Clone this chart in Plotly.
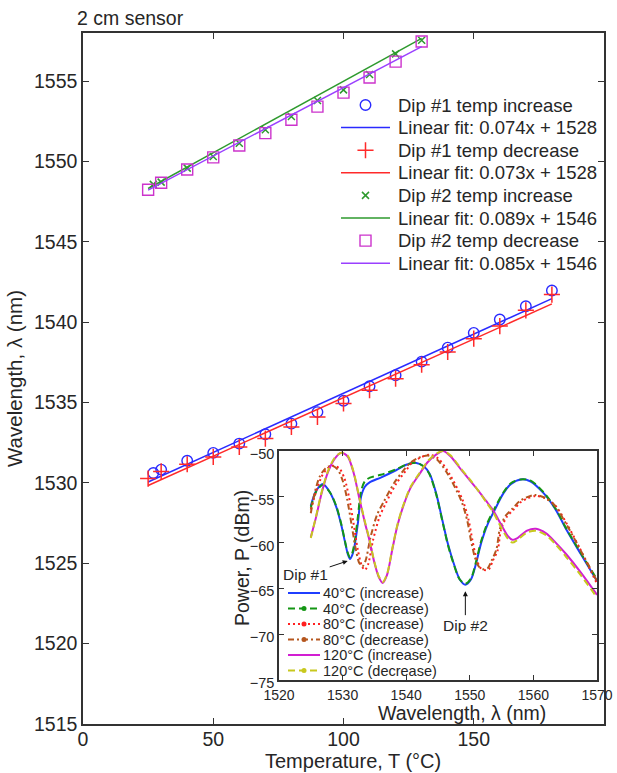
import plotly.graph_objects as go
import numpy as np

# ---------------- data: main plot ----------------
t_dip1_inc = [27, 30, 40, 50, 60, 70, 80, 90, 100, 110, 120, 130, 140, 150, 160, 170, 180]
wl_dip1_inc = [1530.62, 1530.83, 1531.38, 1531.87, 1532.45, 1533.03, 1533.69, 1534.41, 1535.12,
               1536.02, 1536.70, 1537.55, 1538.42, 1539.34, 1540.17, 1541.00, 1541.98]
t_dip1_dec = [25, 30, 40, 50, 60, 70, 80, 90, 100, 110, 120, 130, 140, 150, 160, 170, 180]
wl_dip1_dec = [1530.27, 1530.72, 1531.16, 1531.62, 1532.24, 1532.76, 1533.48, 1534.10, 1534.94,
               1535.77, 1536.49, 1537.36, 1538.15, 1538.98, 1539.76, 1540.74, 1541.72]
t_dip2_inc = [27, 30, 40, 50, 60, 70, 80, 90, 100, 110, 120, 130]
wl_dip2_inc = [1548.58, 1548.72, 1549.59, 1550.32, 1551.14, 1551.98, 1552.80, 1553.80, 1554.46,
               1555.42, 1556.70, 1557.55]
t_dip2_dec = [25, 30, 40, 50, 60, 70, 80, 90, 100, 110, 120, 130]
wl_dip2_dec = [1548.25, 1548.68, 1549.51, 1550.26, 1551.00, 1551.77, 1552.60, 1553.42, 1554.29,
               1555.23, 1556.22, 1557.47]

fit_slope = [0.0736, 0.0729, 0.0890, 0.0850]
fit_icpt = [1528.22, 1528.02, 1546.10, 1546.10]

main_legend_labels = ["Dip #1 temp increase", "Linear fit: 0.074x + 1528",
                      "Dip #1 temp decrease", "Linear fit: 0.073x + 1528",
                      "Dip #2 temp increase", "Linear fit: 0.089x + 1546",
                      "Dip #2 temp decrease", "Linear fit: 0.085x + 1546"]

x_ticks = [0, 50, 100, 150, 200]
y_ticks = [1515, 1520, 1525, 1530, 1535, 1540, 1545, 1550, 1555]

# ---------------- data: inset spectra ----------------
lam_40 = [1525.0, 1525.8, 1526.9, 1528.0, 1529.0, 1529.8, 1530.3, 1530.8, 1531.15, 1531.5, 1531.9,
          1532.4, 1532.9, 1533.5, 1534.3, 1536.0, 1538.4, 1540.0, 1541.6, 1542.8, 1543.7, 1544.7,
          1545.8, 1546.5, 1547.3, 1548.4, 1549.3, 1550.2, 1550.9, 1551.8, 1552.8, 1553.8, 1555.3,
          1556.5, 1558.0, 1559.5, 1561.6, 1563.5, 1565.2, 1567.5, 1570.0]
p_40_inc = [-56.0, -54.4, -53.6, -54.5, -56.1, -58.1, -59.7, -61.2, -61.8, -61.4, -60.3, -57.9,
            -55.0, -53.9, -53.4, -52.9, -52.1, -51.5, -51.3, -51.7, -52.5, -54.6, -57.9, -60.0,
            -61.9, -64.0, -64.6, -64.0, -62.5, -60.0, -58.0, -56.6, -54.6, -53.6, -53.1, -53.3,
            -54.6, -56.4, -58.6, -61.3, -64.2]
p_40_dec = [-56.2, -54.5, -53.7, -54.5, -56.0, -58.0, -59.6, -61.1, -61.6, -61.2, -59.9, -57.2,
            -54.4, -53.3, -52.9, -52.6, -52.0, -51.5, -51.3, -51.7, -52.6, -54.7, -58.0, -60.1,
            -62.0, -64.0, -64.5, -63.9, -62.3, -59.8, -57.8, -56.4, -54.5, -53.5, -53.1, -53.2,
            -54.5, -56.3, -58.5, -61.2, -64.0]

lam_80_inc = [1525.0, 1525.8, 1526.7, 1527.6, 1528.6, 1529.5, 1530.3, 1531.0, 1531.7, 1532.4,
              1533.0, 1533.5, 1534.0, 1534.8, 1535.8, 1536.8, 1538.4, 1540.0, 1541.0, 1542.3,
              1543.6, 1545.0, 1546.8, 1548.9, 1549.8, 1550.4, 1551.0, 1551.6, 1552.3, 1553.0,
              1553.6, 1554.4, 1554.9, 1555.8, 1556.9, 1558.0, 1559.0, 1560.4, 1562.0, 1563.5,
              1565.3, 1567.2, 1570.0]
p_80_inc = [-56.4, -54.5, -52.8, -51.9, -51.6, -51.9, -53.0, -55.0, -57.8, -60.8, -62.5, -63.0,
            -62.4, -59.7, -57.2, -55.7, -53.6, -52.1, -51.2, -50.7, -50.4, -50.8, -52.5, -55.4,
            -57.5, -59.7, -61.6, -62.7, -63.0, -62.9, -62.0, -60.8, -58.6, -57.2, -56.4, -55.6,
            -55.2, -54.9, -55.2, -56.0, -58.0, -60.5, -64.5]
lam_80_dec = [1525.0, 1525.6, 1526.4, 1527.3, 1528.3, 1529.2, 1530.0, 1530.7, 1531.4, 1532.1,
              1532.6, 1533.1, 1533.6, 1534.4, 1535.4, 1536.5, 1538.1, 1539.7, 1540.8, 1542.1,
              1543.4, 1544.8, 1546.6, 1548.7, 1549.6, 1550.2, 1550.8, 1551.4, 1552.1, 1552.8,
              1553.4, 1554.2, 1554.7, 1555.6, 1556.7, 1557.8, 1558.8, 1560.2, 1561.8, 1563.3,
              1565.1, 1567.0, 1570.0]
p_80_dec = [-56.8, -54.6, -52.8, -51.9, -51.6, -52.0, -53.2, -55.2, -58.0, -60.8, -62.2, -62.6,
            -62.0, -59.4, -57.0, -55.5, -53.5, -52.0, -51.2, -50.7, -50.5, -50.9, -52.6, -55.5,
            -57.6, -59.8, -61.6, -62.6, -62.9, -62.8, -62.0, -60.7, -58.6, -57.1, -56.3, -55.5,
            -55.1, -54.8, -55.1, -55.9, -57.9, -60.3, -64.2]

lam_120 = [1525.0, 1525.8, 1526.7, 1527.7, 1528.8, 1529.8, 1530.8, 1531.7, 1532.7, 1533.5, 1534.2,
           1535.0, 1535.7, 1536.3, 1537.0, 1537.8, 1538.6, 1539.5, 1540.7, 1542.1, 1543.4, 1544.7,
           1545.8, 1547.0, 1548.7, 1550.0, 1551.3, 1552.5, 1553.6, 1554.9, 1556.0, 1556.7, 1557.5,
           1559.0, 1560.4, 1562.0, 1563.5, 1565.2, 1567.5, 1570.0]
p_120_inc = [-59.4, -57.3, -54.6, -52.3, -50.8, -50.2, -50.6, -52.3, -55.4, -57.8, -59.7, -62.2,
             -63.8, -64.4, -63.5, -60.8, -58.2, -56.1, -54.0, -52.5, -51.2, -50.4, -50.0, -50.6,
             -52.1, -53.2, -54.3, -55.4, -56.4, -58.0, -59.3, -59.7, -59.5, -58.7, -58.5, -59.0,
             -60.0, -61.3, -63.3, -65.7]
p_120_dec = [-59.5, -57.2, -54.5, -52.2, -50.7, -50.2, -50.5, -52.2, -55.3, -57.7, -59.6, -62.1,
             -63.7, -64.3, -63.4, -60.7, -58.1, -56.0, -53.9, -52.4, -51.1, -50.3, -50.0, -50.5,
             -52.0, -53.1, -54.3, -55.5, -56.6, -58.3, -59.6, -60.0, -59.7, -58.9, -58.7, -59.2,
             -60.2, -61.6, -63.6, -66.0]

inset_labels = ["40°C (increase)", "40°C (decrease)", "80°C (increase)",
                "80°C (decrease)", "120°C (increase)", "120°C (decrease)"]
inset_x_ticks = [1520, 1530, 1540, 1550, 1560, 1570]
inset_y_ticks = [-75, -70, -65, -60, -55, -50]

for a, b in [(lam_40, p_40_inc), (lam_40, p_40_dec), (lam_80_inc, p_80_inc),
             (lam_80_dec, p_80_dec), (lam_120, p_120_inc), (lam_120, p_120_dec)]:
    assert len(a) == len(b)

# ---------------- layout constants ----------------
W, H = 617, 773
L, R, T, B = 83, 604, 33, 724          # main plot area (px)
IL, IR, IT, IB = 279, 597, 451, 680    # inset plot area (px)
FONT = "Arial, 'Liberation Sans', sans-serif"
TXT = "#262626"
AX = "#333333"


def px_x(p):
    return (p - L) / (R - L)


def px_y(p):
    return (B - p) / (B - T)


fig = go.Figure()

# ---------------- main plot ----------------
c_blue, c_red, c_green, c_mag, c_purp = "#2a2aff", "#ff2a2a", "#2e9a2e", "#cc33cc", "#9a40ff"
main_series = [
    (t_dip1_inc, wl_dip1_inc, "circle-open", 10.5, c_blue, 1.4),
    (t_dip1_dec, wl_dip1_dec, "cross-thin-open", 11.5, c_red, 1.5),
    (t_dip2_inc, wl_dip2_inc, "x-thin-open", 7, c_green, 1.5),
    (t_dip2_dec, wl_dip2_dec, "square-open", 11, c_mag, 1.4),
]
fit_colors = [c_blue, c_red, c_green, c_purp]
fit_ranges = [t_dip1_inc + t_dip1_dec, t_dip1_inc + t_dip1_dec,
              t_dip2_inc + t_dip2_dec, t_dip2_inc + t_dip2_dec]

for i, (tx, wy, sym, sz, col, lw) in enumerate(main_series):
    fig.add_trace(go.Scatter(x=tx, y=wy, mode="markers", name=main_legend_labels[2 * i],
                             marker=dict(symbol=sym, size=sz, color=col, line=dict(color=col, width=lw)),
                             xaxis="x", yaxis="y", showlegend=False))
    xr = np.array([min(fit_ranges[i]), max(fit_ranges[i])], dtype=float)
    fig.add_trace(go.Scatter(x=xr, y=fit_slope[i] * xr + fit_icpt[i], mode="lines",
                             name=main_legend_labels[2 * i + 1],
                             line=dict(color=fit_colors[i], width=1.5),
                             xaxis="x", yaxis="y", showlegend=False))

# ---------------- inset spectra ----------------
inset_styles = [
    ("#1f3dff", "solid", None),
    ("#149614", "7px,4px", "#149614"),
    ("#ff2020", "2px,3px", "#ff2020"),
    ("#b5561e", "6px,3px,2px,3px", "#b5561e"),
    ("#d21ed2", "solid", None),
    ("#c8c81e", "7px,4px", "#c8c81e"),
]
inset_data = [(lam_40, p_40_inc), (lam_40, p_40_dec), (lam_80_inc, p_80_inc),
              (lam_80_dec, p_80_dec), (lam_120, p_120_inc), (lam_120, p_120_dec)]
for (lx, py), (col, dash, mk), lab in zip(inset_data, inset_styles, inset_labels):
    fig.add_trace(go.Scatter(x=lx, y=py, mode="lines", name=lab,
                             line=dict(color=col, width=2, dash=dash, shape="spline", smoothing=0.8),
                             xaxis="x2", yaxis="y2", showlegend=False))

# ---------------- main legend (drawn manually, px coords on overlay axis) ----------------
leg_x0, leg_x1, leg_txt = 341, 390, 396
leg_y0, leg_dy = 105, 22.6
for i, lab in enumerate(main_legend_labels):
    yy = leg_y0 + i * leg_dy
    k = i // 2
    if i % 2 == 0:
        tx, wy, sym, sz, col, lw = main_series[k]
        fig.add_trace(go.Scatter(x=[(leg_x0 + leg_x1) / 2], y=[yy], mode="markers",
                                 marker=dict(symbol=sym, size=sz, color=col, line=dict(color=col, width=lw)),
                                 xaxis="x3", yaxis="y3", showlegend=False, hoverinfo="skip"))
    else:
        fig.add_trace(go.Scatter(x=[leg_x0, leg_x1], y=[yy, yy], mode="lines",
                                 line=dict(color=fit_colors[k], width=1.5),
                                 xaxis="x3", yaxis="y3", showlegend=False, hoverinfo="skip"))
    fig.add_annotation(x=leg_txt, y=yy, xref="x3", yref="y3", text=lab, showarrow=False,
                       xanchor="left", yanchor="middle", font=dict(size=18.5, color=TXT, family=FONT))

# ---------------- inset legend ----------------
il_x0, il_x1, il_txt = 288, 320, 322
il_y0, il_dy = 593, 15.5
for i, (lab, (col, dash, mk)) in enumerate(zip(inset_labels, inset_styles)):
    yy = il_y0 + i * il_dy
    fig.add_trace(go.Scatter(x=[il_x0, il_x1], y=[yy, yy], mode="lines",
                             line=dict(color=col, width=2, dash=dash),
                             xaxis="x4", yaxis="y4", showlegend=False, hoverinfo="skip"))
    if mk:
        fig.add_trace(go.Scatter(x=[(il_x0 + il_x1) / 2], y=[yy], mode="markers",
                                 marker=dict(symbol="circle", size=5, color=mk),
                                 xaxis="x4", yaxis="y4", showlegend=False, hoverinfo="skip"))
    fig.add_annotation(x=il_txt, y=yy, xref="x4", yref="y4", text=lab, showarrow=False,
                       xanchor="left", yanchor="middle", borderpad=0,
                       font=dict(size=14.5, color=TXT, family=FONT))

# ---------------- annotations ----------------
fig.add_annotation(x=px_x(75), y=px_y(18), xref="paper", yref="paper", text="2 cm sensor",
                   showarrow=False, xanchor="left", yanchor="middle",
                   font=dict(size=19.5, color=TXT, family=FONT))
fig.add_annotation(x=1530.8, y=-62.0, xref="x2", yref="y2", text="Dip #1", ax=-42, ay=14,
                   showarrow=True, arrowhead=2, arrowsize=1, arrowwidth=1, arrowcolor="#111",
                   font=dict(size=15.5, color=TXT, family=FONT))
fig.add_annotation(x=1549.3, y=-65.3, xref="x2", yref="y2", text="Dip #2", ax=0, ay=34,
                   showarrow=True, arrowhead=2, arrowsize=1, arrowwidth=1, arrowcolor="#111",
                   font=dict(size=15.5, color=TXT, family=FONT))
# main x-axis title
fig.add_annotation(x=px_x(353), y=px_y(761), xref="paper", yref="paper",
                   text="Temperature, T (°C)", showarrow=False, xanchor="center", yanchor="middle",
                   borderpad=0, font=dict(size=20, color=TXT, family=FONT))
# inset axis titles
fig.add_annotation(x=px_x(462), y=px_y(713), xref="paper", yref="paper",
                   text="Wavelength, λ (nm)", showarrow=False, xanchor="center", yanchor="middle",
                   borderpad=0, font=dict(size=19.5, color=TXT, family=FONT))
fig.add_annotation(x=px_x(242), y=px_y(558), xref="paper", yref="paper",
                   text="Power, P (dBm)", showarrow=False, textangle=-90,
                   xanchor="center", yanchor="middle", borderpad=0,
                   font=dict(size=19.5, color=TXT, family=FONT))

axis_common = dict(showline=True, linecolor=AX, linewidth=1.5, mirror="ticks", ticks="inside",
                   tickcolor=AX, tickwidth=1.2, showgrid=False, zeroline=False, automargin=False)

fig.update_layout(
    template="none",
    width=W, height=H, autosize=False,
    margin=dict(l=L, r=W - R, t=T, b=H - B, pad=0),
    paper_bgcolor="white", plot_bgcolor="white",
    font=dict(family=FONT, color=TXT, size=17),
    showlegend=False,
    xaxis=dict(range=[0, 200], tickvals=x_ticks, ticklen=6, domain=[0, 1], anchor="y",
               tickfont=dict(size=19.5), ticklabelstandoff=-3, **axis_common),
    yaxis=dict(range=[1515, 1558], tickvals=y_ticks, ticklen=6, domain=[0, 1], anchor="x",
               title=dict(text="Wavelength, λ (nm)", font=dict(size=20.5), standoff=6),
               tickfont=dict(size=19.5), **axis_common),
    xaxis2=dict(range=[1520, 1570], tickvals=inset_x_ticks, ticklen=5,
                domain=[px_x(IL), px_x(IR)], anchor="y2", ticklabelstandoff=1,
                tickfont=dict(size=14), **axis_common),
    yaxis2=dict(range=[-75, -50], tickvals=inset_y_ticks, ticklen=5,
                domain=[px_y(IB), px_y(IT)], anchor="x2", ticklabelshift=3,
                tickfont=dict(size=14.5), **axis_common),
    xaxis3=dict(range=[L, R], overlaying="x", anchor="y3", visible=False),
    yaxis3=dict(range=[B, T], overlaying="y", anchor="x3", visible=False),
    xaxis4=dict(range=[IL, IR], overlaying="x2", anchor="y4", visible=False),
    yaxis4=dict(range=[IB, IT], overlaying="y2", anchor="x4", visible=False),
)

fig.write_html("out.html", config={"displayModeBar": False},
               post_script="document.body.style.margin='0px';document.body.style.overflow='hidden';")
